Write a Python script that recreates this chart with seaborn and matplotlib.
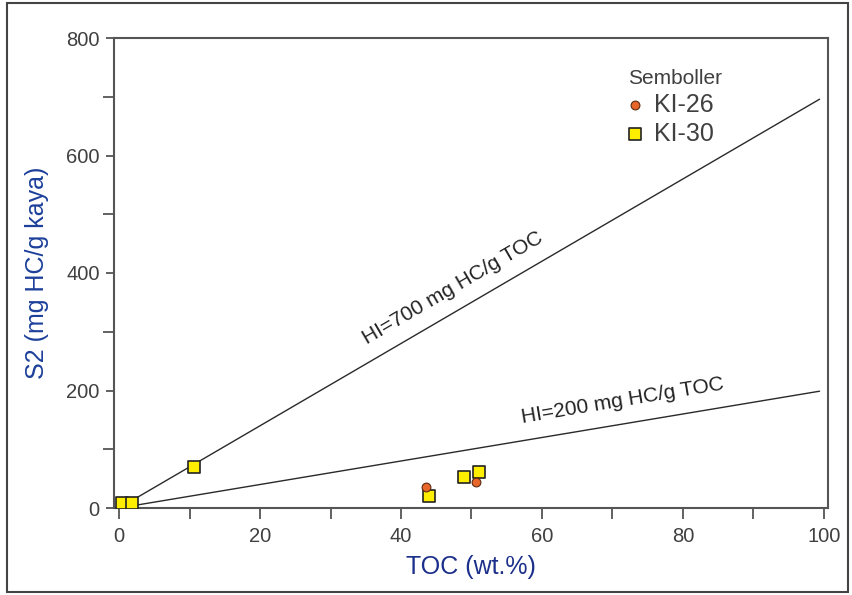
import numpy as np
import pandas as pd
import matplotlib
matplotlib.use("Agg")
import matplotlib.pyplot as plt
from matplotlib.patches import Rectangle
import seaborn as sns

# veriler
ki26_toc = [43.5, 50.7]
ki26_s2 = [35, 44]
ki30_toc = [0.4, 1.8, 10.6, 44.0, 49.0, 51.1]
ki30_s2 = [8, 9, 69, 21, 52, 61]

hi_values = [700, 200]
hi_labels = ["HI=700 mg HC/g TOC", "HI=200 mg HC/g TOC"]
line_toc = [1.5, 99.4]

df26 = pd.DataFrame({"TOC": ki26_toc, "S2": ki26_s2})
df30 = pd.DataFrame({"TOC": ki30_toc, "S2": ki30_s2})

sns.set_style("white")
plt.rcParams["font.family"] = ["Liberation Sans", "DejaVu Sans"]

fig = plt.figure(figsize=(8.52, 5.95), dpi=100)
ax = fig.add_axes([113.5 / 852, 1 - 508 / 595, (828 - 113.5) / 852, (508 - 38) / 595])
ax.set_xlim(-0.8, 100.6)
ax.set_ylim(0, 800)

# HI cizgileri
for hi in hi_values:
    xs = np.array(line_toc)
    ax.plot(xs, hi * xs / 100, color="#2a2a2a", lw=1, zorder=2)

sns.scatterplot(data=df30, x="TOC", y="S2", marker="s", s=75, color="#ffee00",
                edgecolor="#222222", linewidth=1.2, label="KI-30", ax=ax, zorder=3)
sns.scatterplot(data=df26, x="TOC", y="S2", marker="o", s=40, color="#e8662a",
                edgecolor="#5a2a10", linewidth=0.8, label="KI-26", ax=ax, zorder=4)

# cizgi etiketleri
def screen_angle(hi):
    p1 = ax.transData.transform((0, 0))
    p2 = ax.transData.transform((100, hi))
    return np.degrees(np.arctan2(p2[1] - p1[1], p2[0] - p1[0]))

text_pos = [(47.4, 374), (71.5, 182)]
for hi, lab, (tx, ty) in zip(hi_values, hi_labels, text_pos):
    ax.text(tx, ty, lab, rotation=screen_angle(hi), rotation_mode="anchor",
            ha="center", va="center", fontsize=15, color="#222222")

# eksenler
ax.set_xticks([0, 20, 40, 60, 80, 100])
ax.set_xticks([10, 30, 50, 70, 90], minor=True)
ax.set_yticks([0, 200, 400, 600, 800])
ax.set_yticks([100, 300, 500, 700], minor=True)
ax.tick_params(axis="both", which="both", direction="out", color="#555555",
               width=1.3, labelsize=14.5, labelcolor="#404040",
               bottom=True, left=True, top=False, right=False)
ax.tick_params(axis="x", which="both", length=8, pad=6)
ax.tick_params(axis="y", which="major", length=6, pad=4)
ax.tick_params(axis="y", which="minor", length=8)
for sp in ax.spines.values():
    sp.set_color("#555555")
    sp.set_linewidth(1.5)

ax.set_xlabel("TOC (wt.%)", fontsize=18, color="#1c2f8a", labelpad=6)
ax.set_ylabel("S2 (mg HC/g kaya)", fontsize=18, color="#1c3f9a", labelpad=12)

handles, labels = ax.get_legend_handles_labels()
order = [labels.index("KI-26"), labels.index("KI-30")]
leg = ax.legend([handles[i] for i in order], [labels[i] for i in order],
                title="Semboller", loc="upper left", bbox_to_anchor=(0.72, 0.935),
                frameon=False, fontsize=18, title_fontsize=15, alignment="left",
                handlelength=0.6, handletextpad=0.45, labelspacing=0.2,
                borderaxespad=0, borderpad=0)
for t in leg.get_texts():
    t.set_color("#404040")
leg.get_title().set_color("#404040")

# dis cerceve
fig.patches.append(Rectangle((7 / 852, 3 / 595), 841 / 852, 589 / 595, transform=fig.transFigure,
                             fill=False, edgecolor="#444444", lw=1.5))

fig.savefig("out.png", dpi=100)
